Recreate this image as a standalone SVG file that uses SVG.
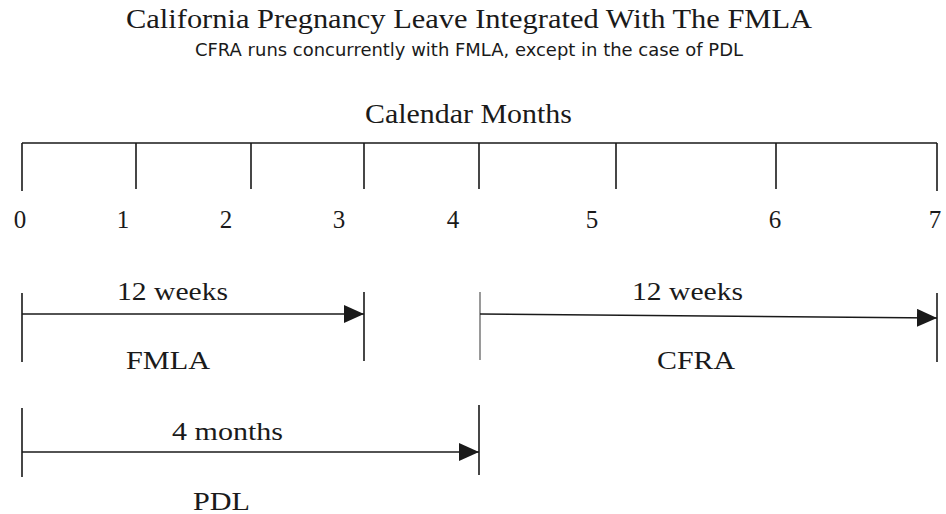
<svg xmlns="http://www.w3.org/2000/svg" width="946" height="514" viewBox="0 0 946 514">
<style>
.serif{font-family:"Liberation Serif","Times New Roman",serif;fill:#1a1a1a}
.sans{font-family:"DejaVu Sans","Liberation Sans",sans-serif;fill:#1a1a1a}
.ln{stroke:#1a1a1a;stroke-width:1.6;fill:none}
.lg{stroke:#808080;stroke-width:1.6;fill:none}
</style>
<defs>
<marker id="ah" markerUnits="userSpaceOnUse" markerWidth="20" markerHeight="18" refX="20" refY="9" orient="auto">
<path d="M0,0 L20,9 L0,18 z" fill="#1a1a1a"/>
</marker>
</defs>
<rect width="946" height="514" fill="#fff"/>
<g id="title">
<text class="serif" x="469" y="28" font-size="27" text-anchor="middle" textLength="686" lengthAdjust="spacingAndGlyphs">California Pregnancy Leave Integrated With The FMLA</text>
<text class="sans" x="469" y="56" font-size="17" text-anchor="middle" textLength="548" lengthAdjust="spacingAndGlyphs">CFRA runs concurrently with FMLA, except in the case of PDL</text>
</g>
<g id="axis">
<text class="serif" x="468.5" y="123" font-size="27" text-anchor="middle" textLength="207" lengthAdjust="spacingAndGlyphs">Calendar Months</text>
<path class="ln" d="M22,143 H937 M22,143 V191 M136,143 V189 M251,143 V189 M364,143 V189 M479,143 V189 M616,143 V189 M776,143 V189 M937,143 V191"/>
<g class="serif" font-size="25" text-anchor="middle">
<text x="20" y="228">0</text>
<text x="123" y="228">1</text>
<text x="226" y="228">2</text>
<text x="339" y="228">3</text>
<text x="453" y="228">4</text>
<text x="592" y="228">5</text>
<text x="775" y="228">6</text>
<text x="935" y="228">7</text>
</g>
</g>
<g id="fmla">
<path class="ln" d="M22,293 V362 M364,292 V361"/>
<text class="serif" x="172.5" y="300" font-size="25" text-anchor="middle" textLength="111" lengthAdjust="spacingAndGlyphs">12 weeks</text>
<text class="serif" x="168" y="369" font-size="25" text-anchor="middle" textLength="84" lengthAdjust="spacingAndGlyphs">FMLA</text>
</g>
<g id="cfra">
<path class="lg" d="M480,292 V360"/>
<path class="ln" d="M937,293 V362"/>
<text class="serif" x="687.5" y="300" font-size="25" text-anchor="middle" textLength="111" lengthAdjust="spacingAndGlyphs">12 weeks</text>
<text class="serif" x="696" y="369" font-size="25" text-anchor="middle" textLength="78" lengthAdjust="spacingAndGlyphs">CFRA</text>
</g>
<g id="pdl">
<path class="ln" d="M22,408 V477 M479,405 V475"/>
<text class="serif" x="227.5" y="440" font-size="25" text-anchor="middle" textLength="111" lengthAdjust="spacingAndGlyphs">4 months</text>
<text class="serif" x="221.5" y="510" font-size="25" text-anchor="middle" textLength="57" lengthAdjust="spacingAndGlyphs">PDL</text>
</g>
<g id="connectors">
<line class="ln" x1="22" y1="314" x2="364" y2="314" marker-end="url(#ah)"/>
<line class="ln" x1="480" y1="314" x2="937" y2="318" marker-end="url(#ah)"/>
<line class="ln" x1="22" y1="452" x2="479" y2="452" marker-end="url(#ah)"/>
</g>
</svg>
